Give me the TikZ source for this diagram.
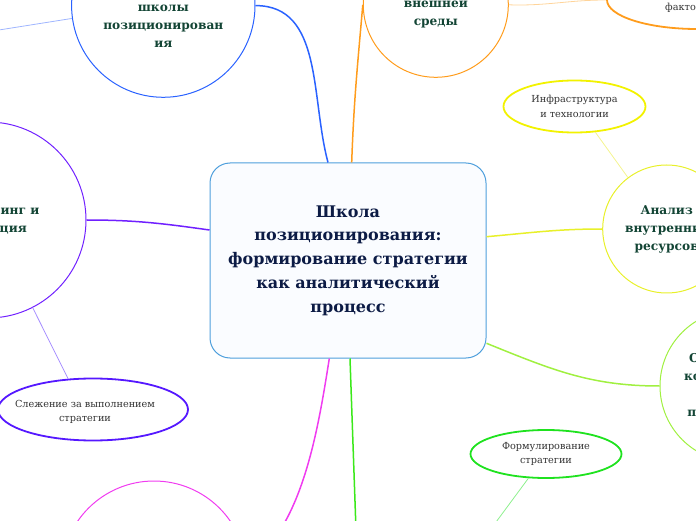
\documentclass[tikz,border=0pt]{standalone}
\usepackage{fontspec}
\setmainfont{DejaVu Serif}
\usetikzlibrary{shapes.geometric}
\definecolor{coreline}{HTML}{4E9FDC}
\definecolor{corefill}{HTML}{FAFCFF}
\definecolor{coretext}{HTML}{0C1B45}
\definecolor{topictext}{HTML}{124434}
\definecolor{leaftext}{HTML}{333333}
\definecolor{bluering}{HTML}{2A62FF}
\definecolor{bluethin}{HTML}{9FB5FF}
\definecolor{orangering}{HTML}{FF9C1C}
\definecolor{orangethin}{HTML}{FFD49A}
\definecolor{yellowring}{HTML}{E8F02A}
\definecolor{yellowleaf}{HTML}{F2F200}
\definecolor{yellowthin}{HTML}{F4F490}
\definecolor{limering}{HTML}{A0F040}
\definecolor{greenleaf}{HTML}{1FE21F}
\definecolor{greenline}{HTML}{3BE81A}
\definecolor{greenthin}{HTML}{8EF08E}
\definecolor{magentaring}{HTML}{F03CF0}
\definecolor{purplering}{HTML}{7020FF}
\definecolor{purplethin}{HTML}{A890FF}
\definecolor{purpleleaf}{HTML}{5518FF}
\begin{document}
\begin{tikzpicture}[x=1pt,y=1pt]
  \tikzstyle{every node}+=[inner sep=0pt]
  \tikzstyle{topic}=[circle, draw, line width=1pt, text=topictext, align=center, font=\bfseries\fontsize{12.2}{18}\selectfont]
  \tikzstyle{topictxt}=[text=topictext, align=center, font=\bfseries\fontsize{12.2}{18}\selectfont]
  \tikzstyle{leaf}=[ellipse, draw, line width=1.8pt, text=leaftext, align=center, font=\fontsize{9.7}{14.3}\selectfont]
  \tikzstyle{leaftxt}=[text=leaftext, align=center, font=\fontsize{9.7}{14.3}\selectfont]
  \tikzstyle{branch}=[line width=1.5pt]
  \tikzstyle{twig}=[line width=0.8pt]
  \useasboundingbox (0,0) rectangle (696,520);

  \node [rectangle, rounded corners=20, draw=coreline, line width=1pt, fill=corefill, minimum width=276, minimum height=195, text=coretext, align=center, font=\bfseries\fontsize{16}{23.7}\selectfont] (core) at (348,259.5) {Школа\\позиционирования:\\формирование стратегии\\как аналитический\\процесс};

  \node [topic, draw=bluering, minimum size=183.4] (posit) at (163.3,514.4) {};
  \node [topictxt] (posittxt) at (163.3,494) {школы\\позиционирован\\ия};
  \node [topic, draw=orangering, minimum size=145] (ext) at (435.8,515.2) {Анализ\\внешней\\среды};
  \node [leaf, draw=orangering, minimum width=180, minimum height=58] (factor) at (697,520) {};
  \node [leaftxt, anchor=west] (factortxt) at (665,512) {факторов};
  \node [leaf, draw=yellowleaf, minimum width=142, minimum height=52] (infra) at (574.5,413.5) {Инфраструктура\\и технологии};
  \node [topic, draw=yellowring, minimum size=128] (inner) at (666.7,291) {Анализ\\внутренних\\ресурсов};
  \node [topic, draw=limering, minimum size=152] (keyf) at (736,134) {Определение\\конкурентных\\сил и\\преимуществ};
  \node [leaf, draw=greenleaf, minimum width=151, minimum height=48] (form) at (546,66) {Формулирование\\стратегии};
  \node [topic, draw=magentaring, minimum size=185.2] (mag) at (154,-53.6) {};
  \node [topic, draw=purplering, minimum size=196] (plan) at (-12,300) {Мониторинг и\\коррекция};
  \node [leaf, draw=purpleleaf, minimum width=190, minimum height=62] (watch) at (93,110.5) {};
  \node [leaftxt] (watchtxt) at (85,108.3) {Слежение за выполнением\\стратегии};

  \coordinate (blueend) at (-20,487);
  \coordinate (greenend) at (356,-10);
  \coordinate (formend) at (485,-17);

  \draw [branch, bluering] (posit.east) to[out=0,in=105] ([xshift=-20]core.north);
  \draw [twig, bluethin] (posit.188) -- (blueend);
  \draw [branch, orangering] ([xshift=3.7]core.north) to[out=88,in=-95] (ext.west);
  \draw [twig, orangethin] (ext.east) to[out=-2,in=180] (factor.west);
  \draw [branch, yellowring] ([yshift=23.8]core.east) to[out=5,in=180] (inner.west);
  \draw [twig, yellowthin] (infra.-51) -- (inner.127);
  \draw [branch, limering] ([yshift=-82.8]core.east) to[out=-22,in=180] (keyf.west);
  \draw [branch, greenline] ([xshift=2]core.south) to[out=-88,in=92] (greenend);
  \draw [twig, greenthin] (form.-126) -- (formend);
  \draw [branch, magentaring] ([xshift=-18.7]core.south) .. controls (318,90) and (302,-10) .. (mag.5);
  \draw [branch, purplering] (plan.east) to[out=0,in=172] ([yshift=30.5]core.west);
  \draw [twig, purplethin] (plan.-63) -- (watch.129);
\end{tikzpicture}
\end{document}
